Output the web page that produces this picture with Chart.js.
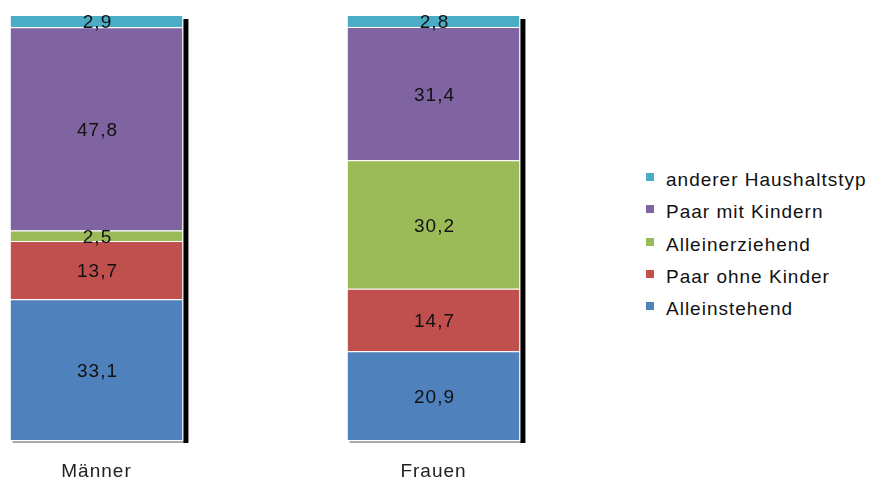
<!DOCTYPE html>
<html lang="de">
<head>
<meta charset="utf-8">
<title>Haushaltstyp nach Geschlecht</title>
<script src="https://cdn.jsdelivr.net/npm/chart.js@4/dist/chart.umd.min.js"></script>
<style>
    html, body { margin: 0; padding: 0; background: #fff; }
    body { width: 869px; height: 479px; position: relative; overflow: hidden; }
    #chartBox { position: absolute; left: -72px; top: 0; width: 674px; height: 479px; }
    #legend {
        position: absolute; left: 646px; top: 164px;
        font-family: 'Liberation Sans', Arial, sans-serif;
        font-size: 19px; letter-spacing: 1px; color: #111;
    }
    .legend-row { position: relative; height: 32.3px; line-height: 32.3px; padding-left: 20px; white-space: nowrap; }
    .legend-box { position: absolute; left: 0; top: 9px; width: 8px; height: 8px; }
</style>
</head>
<body>
<div id="chartBox"><canvas id="householdChart"></canvas></div>
<div id="legend"></div>

<script>
// Data
const categories = ['Männer', 'Frauen'];
const seriesNames = ['Alleinstehend', 'Paar ohne Kinder', 'Alleinerziehend', 'Paar mit Kindern', 'anderer Haushaltstyp'];
const alleinstehend = [33.1, 20.9];
const paarOhneKinder = [13.7, 14.7];
const alleinerziehend = [2.5, 30.2];
const paarMitKindern = [47.8, 31.4];
const andererTyp = [2.9, 2.8];
const seriesColors = ['#4f81bd', '#c0504d', '#9bbb59', '#8064a2', '#4bacc6'];

const seriesValues = [alleinstehend, paarOhneKinder, alleinerziehend, paarMitKindern, andererTyp];

function formatValue(v) {
    return v.toFixed(1).replace('.', ',');
}

// black drop shadow on the right side of each stacked bar
const barShadow = {
    id: 'barShadow',
    beforeDatasetsDraw(chart) {
        const ctx = chart.ctx;
        const first = chart.getDatasetMeta(0).data;
        const last = chart.getDatasetMeta(chart.data.datasets.length - 1).data;
        ctx.save();
        first.forEach((el, i) => {
            const right = el.x + el.width / 2;
            const left = el.x - el.width / 2;
            const bottom = el.base;
            const top = last[i].y;
            ctx.fillStyle = '#aaa';
            ctx.fillRect(left + 2, bottom + 1, el.width, 2);
            ctx.fillStyle = '#000';
            ctx.fillRect(right + 1, top + 4, 5, bottom - top - 1);
        });
        ctx.restore();
    }
};

const valueLabels = {
    id: 'valueLabels',
    afterDatasetsDraw(chart) {
        const ctx = chart.ctx;
        ctx.save();
        ctx.font = "19px 'Liberation Sans', Arial, sans-serif";
        ctx.letterSpacing = '1px';
        ctx.fillStyle = '#111';
        ctx.textAlign = 'center';
        ctx.textBaseline = 'middle';
        chart.data.datasets.forEach((ds, di) => {
            chart.getDatasetMeta(di).data.forEach((el, i) => {
                const y = (el.y + el.base) / 2 + 2;
                ctx.fillText(formatValue(ds.data[i]), el.x + 1, y);
            });
        });
        ctx.restore();
    }
};

const textSpacing = {
    id: 'textSpacing',
    beforeDraw(chart) {
        chart.ctx.letterSpacing = '1px';
    }
};

const ctx = document.getElementById('householdChart').getContext('2d');

new Chart(ctx, {
    type: 'bar',
    data: {
        labels: categories,
        datasets: seriesNames.map((name, i) => ({
            label: name,
            data: seriesValues[i],
            backgroundColor: seriesColors[i],
            borderColor: 'rgba(255,255,255,0.9)',
            borderWidth: { top: 1, right: 0, bottom: 0, left: 0 },
            borderSkipped: false,
            categoryPercentage: 1,
            barPercentage: 0.51
        }))
    },
    options: {
        responsive: true,
        maintainAspectRatio: false,
        animation: false,
        layout: { padding: { top: 15, left: 0, right: 0, bottom: 0 } },
        plugins: {
            legend: { display: false },
            tooltip: { enabled: false }
        },
        scales: {
            x: {
                stacked: true,
                grid: { display: false, drawTicks: false },
                border: { display: false },
                ticks: {
                    padding: 20,
                    color: '#222',
                    font: { family: "'Liberation Sans', Arial, sans-serif", size: 19 }
                },
                afterFit(scale) { scale.height = 39; }
            },
            y: {
                stacked: true,
                display: false,
                min: 0,
                max: 100
            }
        }
    },
    plugins: [textSpacing, barShadow, valueLabels]
});

// legend, top entry first
const legendEl = document.getElementById('legend');
for (let i = seriesNames.length - 1; i >= 0; i--) {
    const row = document.createElement('div');
    row.className = 'legend-row';
    row.innerHTML = `<span class="legend-box" style="background:${seriesColors[i]}"></span>${seriesNames[i]}`;
    legendEl.appendChild(row);
}
</script>
</body>
</html>
